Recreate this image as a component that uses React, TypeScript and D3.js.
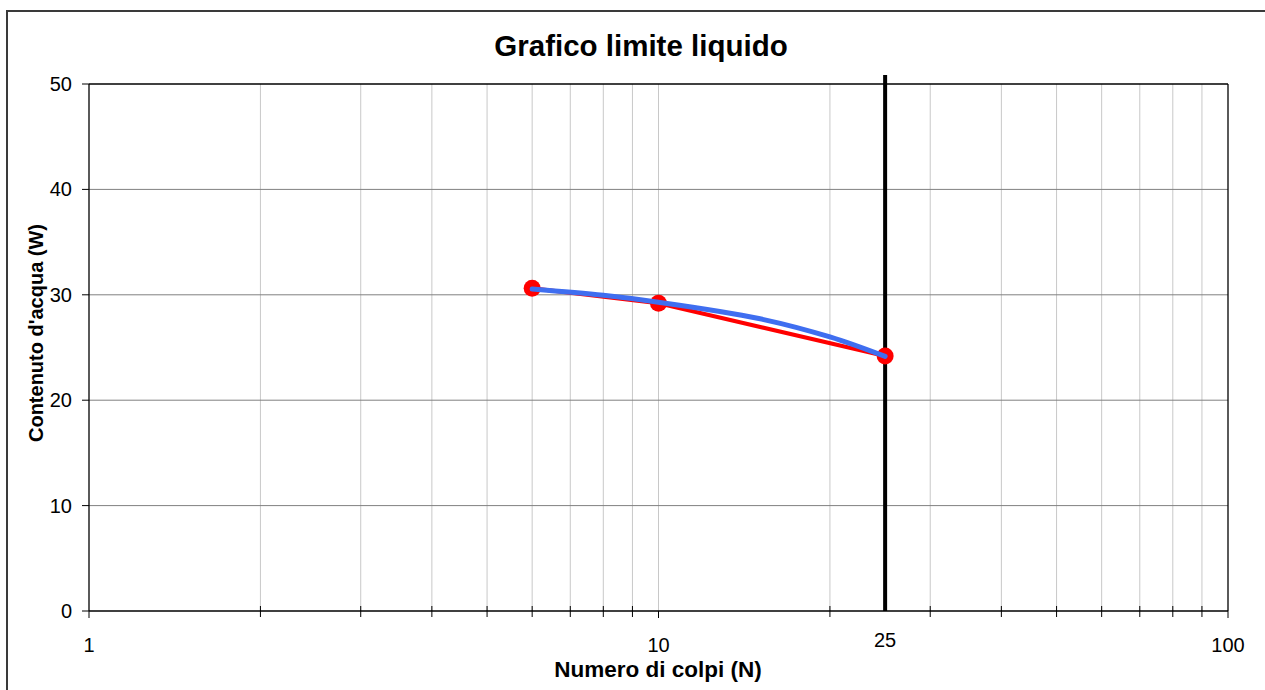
import React from "react";
import * as d3 from "d3";

const blows = [6, 10, 25];
const waterContent = [30.62, 29.19, 24.19];
const fitBlows = [6, 8, 10, 15, 20, 25];
const fitWater = [30.55, 29.95, 29.3, 27.75, 26.0, 24.15];
const refBlows = [25, 25];
const refWater = [0, 50.85];
const yTicks = [0, 10, 20, 30, 40, 50];
const xMajor = [1, 10, 100];
const xMinor = [2, 3, 4, 5, 6, 7, 8, 9, 20, 30, 40, 50, 60, 70, 80, 90];
const xLabels = [
  { v: 1, t: "1" },
  { v: 10, t: "10" },
  { v: 100, t: "100" },
];
const refLabel = { v: 25, t: "25" };

const W = 1265;
const H = 690;
const L = 89, R = 1228, T = 84, B = 611;
const FONT = "'Liberation Sans', Arial, Helvetica, sans-serif";

export default function App() {
  const x = d3.scaleLog().domain([1, 100]).range([L, R]);
  const y = d3.scaleLinear().domain([0, 50]).range([B, T]);

  const redLine = d3
    .line<number>()
    .x((_, i) => x(blows[i]))
    .y((d) => y(d))(waterContent) as string;

  const blueLine = d3
    .line<number>()
    .x((_, i) => x(fitBlows[i]))
    .y((d) => y(d))
    .curve(d3.curveCatmullRom.alpha(0.5))(fitWater) as string;

  return (
    <svg
      width={W}
      height={H}
      style={{ position: "absolute", left: 0, top: 0, background: "#fff" }}
      fontFamily={FONT}
    >
      <rect x={0} y={0} width={W} height={H} fill="#fff" />
      <rect x={7} y={11} width={1300} height={700} fill="none" stroke="#3a3a3a" strokeWidth={2} />

      {/* vertical grid */}
      {xMinor.concat([10]).map((v) => (
        <line key={"vg" + v} x1={x(v)} x2={x(v)} y1={T} y2={B} stroke="#c8c8c8" strokeWidth={1} />
      ))}
      {/* horizontal grid */}
      {yTicks.slice(1, -1).map((v) => (
        <line key={"hg" + v} x1={L} x2={R} y1={y(v)} y2={y(v)} stroke="#808080" strokeWidth={1} />
      ))}

      {/* frame */}
      <line x1={L} x2={R} y1={T} y2={T} stroke="#000" strokeWidth={1.3} />
      <line x1={R} x2={R} y1={T} y2={B} stroke="#000" strokeWidth={1.3} />
      <line x1={L} x2={L} y1={T} y2={B} stroke="#000" strokeWidth={1.3} />
      <line x1={L} x2={R} y1={B} y2={B} stroke="#000" strokeWidth={1.3} />

      {/* y ticks */}
      {yTicks.map((v) => (
        <g key={"yt" + v}>
          <line x1={L - 7} x2={L} y1={y(v)} y2={y(v)} stroke="#000" strokeWidth={1} />
          <text x={L - 17} y={y(v) + 7} textAnchor="end" fontSize={20} fill="#000">
            {v}
          </text>
        </g>
      ))}

      {/* x ticks */}
      {xMinor.map((v) => (
        <line key={"xm" + v} x1={x(v)} x2={x(v)} y1={B - 5} y2={B + 6} stroke="#000" strokeWidth={1} />
      ))}
      {xMajor.map((v) => (
        <line key={"xM" + v} x1={x(v)} x2={x(v)} y1={B} y2={B + 7} stroke="#000" strokeWidth={1} />
      ))}
      {xLabels.map((d) => (
        <text key={"xl" + d.v} x={x(d.v)} y={652} textAnchor="middle" fontSize={20} fill="#000">
          {d.t}
        </text>
      ))}
      <text x={x(refLabel.v)} y={647} textAnchor="middle" fontSize={20} fill="#000">
        {refLabel.t}
      </text>

      {/* reference line at 25 */}
      <line
        x1={x(refBlows[0])}
        x2={x(refBlows[1])}
        y1={y(refWater[0])}
        y2={y(refWater[1])}
        stroke="#000"
        strokeWidth={4}
      />

      {/* red series */}
      <path d={redLine} fill="none" stroke="#ff0000" strokeWidth={4} />
      {blows.map((b, i) => (
        <circle key={"pt" + i} cx={x(b)} cy={y(waterContent[i])} r={8.5} fill="#ff0000" />
      ))}

      {/* blue smoothed */}
      <path d={blueLine} fill="none" stroke="#3f6ef0" strokeWidth={5} strokeLinecap="round" />

      {/* titles */}
      <text x={641} y={56} textAnchor="middle" fontSize={29.5} fontWeight="bold" fill="#000">
        Grafico limite liquido
      </text>
      <text x={658} y={677} textAnchor="middle" fontSize={22.5} fontWeight="bold" fill="#000">
        Numero di colpi (N)
      </text>
      <text
        transform={`translate(43, 333) rotate(-90)`}
        textAnchor="middle"
        fontSize={20}
        fontWeight="bold"
        fill="#000"
      >
        Contenuto d'acqua (W)
      </text>
    </svg>
  );
}
